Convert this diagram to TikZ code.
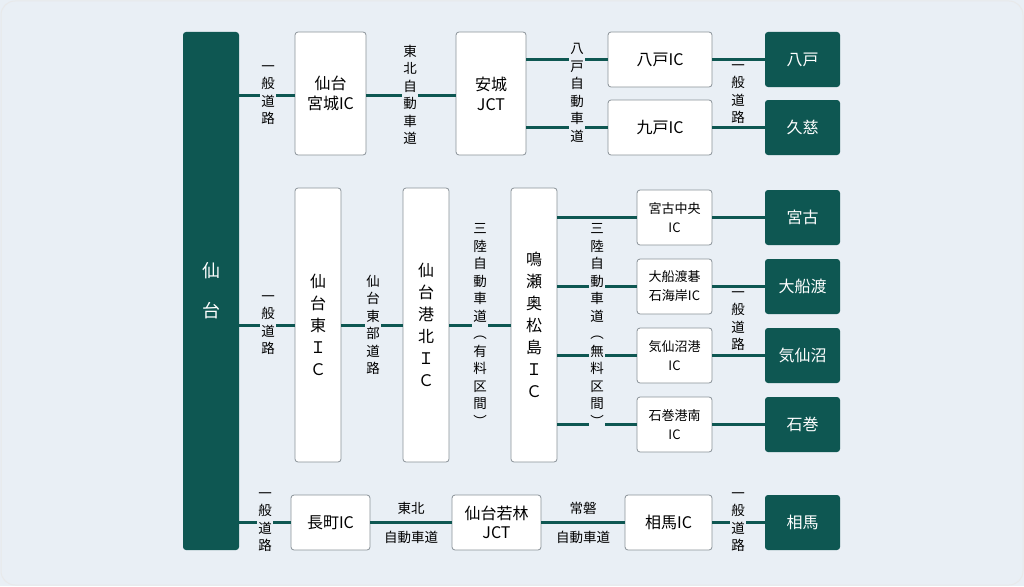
\documentclass[tikz,border=0pt]{standalone}
\usepackage{fontspec}
\setmainfont{Noto Sans CJK JP}
\definecolor{dk}{HTML}{0E5752}
\definecolor{bg}{HTML}{E9EFF5}
\definecolor{bd}{HTML}{8A9298}
\begin{document}
\begin{tikzpicture}[x=1pt,y=-1pt,
  wbox/.style={draw=bd,line width=0.8pt,fill=white,rounded corners=3pt,font=\fontsize{16}{20}\selectfont,align=center,inner sep=0pt},
  dbox/.style={fill=dk,rounded corners=3pt,text=white,font=\fontsize{16}{20}\selectfont,align=center,inner sep=0pt},
  lab/.style={fill=bg,font=\fontsize{13.5}{17.5}\selectfont,align=center,inner sep=1pt},
  hlab/.style={fill=bg,font=\fontsize{13.5}{16}\selectfont,align=center,inner sep=1pt},
  ln/.style={draw=dk,line width=3pt}]
\fill[bg] (0,0) rectangle (1024,586);
\draw[draw=white!80!bd,line width=1pt,rounded corners=14pt] (1,1) rectangle (1023,585);
% Sendai bar
\node[dbox,minimum width=56pt,minimum height=518pt,font=\fontsize{18}{40}\selectfont] (sd) at (211,291) {仙\\台};
% Row1
\node[wbox,minimum width=71pt,minimum height=123pt] (a1) at (330.5,93.5) {仙台\\宮城IC};
\node[wbox,minimum width=70pt,minimum height=123pt] (a2) at (491,93.5) {安城\\JCT};
\node[wbox,minimum width=104pt,minimum height=55pt] (a3) at (660,59.5) {八戸IC};
\node[wbox,minimum width=104pt,minimum height=55pt] (a4) at (660,127.5) {九戸IC};
\node[dbox,minimum width=75pt,minimum height=55pt] (a5) at (802.5,59.5) {八戸};
\node[dbox,minimum width=75pt,minimum height=55pt] (a6) at (802.5,127.5) {久慈};
\coordinate (s1) at (239,95);
\draw[ln] (s1) -- (a1.west|-s1);
\draw[ln] (a1.east|-s1) -- (a2.west|-s1);
\draw[ln] (a2.east|-a3) -- (a3.west);
\draw[ln] (a2.east|-a4) -- (a4.west);
\draw[ln] (a3) -- (a5);
\draw[ln] (a4) -- (a6);
\node[lab] (l1) at (268,95) {一\\般\\道\\路};
\node[lab] (l2) at (410,95) {東\\北\\自\\動\\車\\道};
\node[lab] (l3) at (577,93) {八\\戸\\自\\動\\車\\道};
\node[lab] (l4) at (738,94) {一\\般\\道\\路};
% Row2
\node[wbox,minimum width=46pt,minimum height=274pt,font=\fontsize{16}{22}\selectfont] (b1) at (318,325) {仙\\台\\東\\Ｉ\\Ｃ};
\node[wbox,minimum width=46pt,minimum height=274pt,font=\fontsize{16}{22}\selectfont] (b2) at (426,325) {仙\\台\\港\\北\\Ｉ\\Ｃ};
\node[wbox,minimum width=46pt,minimum height=274pt,font=\fontsize{16}{22}\selectfont] (b3) at (534,325) {鳴\\瀬\\奥\\松\\島\\Ｉ\\Ｃ};
\coordinate (s2) at (239,325);
\draw[ln] (s2) -- (b1.west|-s2);
\draw[ln] (b1) -- (b2);
\draw[ln] (b2) -- (b3);
\foreach \n/\y/\t/\d in {1/217.5/宮古中央\\IC/宮古,2/286.5/大船渡碁\\石海岸IC/大船渡,3/355.5/気仙沼港\\IC/気仙沼,4/424.5/石巻港南\\IC/石巻}{
  \node[wbox,minimum width=75pt,minimum height=55pt,font=\fontsize{13}{19}\selectfont] (c\n) at (674.5,\y) {\t};
  \node[dbox,minimum width=75pt,minimum height=55pt] (d\n) at (802.5,\y) {\d};
  \draw[ln] (b3.east|-c\n) -- (c\n.west);
  \draw[ln] (c\n) -- (d\n);
}
\node[lab] (m1) at (268,325) {一\\般\\道\\路};
\node[lab] (m2) at (373,325) {仙\\台\\東\\部\\道\\路};
\node[lab] (m3) at (480,325) {三\\陸\\自\\動\\車\\道\\︵\\有\\料\\区\\間\\︶};
\node[lab] (m4) at (597,325) {三\\陸\\自\\動\\車\\道\\︵\\無\\料\\区\\間\\︶};
\node[lab] (m5) at (738,321) {一\\般\\道\\路};
% Row3
\node[wbox,minimum width=79pt,minimum height=55pt] (e1) at (330.5,522.5) {長町IC};
\node[wbox,minimum width=89pt,minimum height=55pt,font=\fontsize{16}{19}\selectfont] (e2) at (496.5,522.5) {仙台若林\\JCT};
\node[wbox,minimum width=87pt,minimum height=55pt] (e3) at (668.5,522.5) {相馬IC};
\node[dbox,minimum width=75pt,minimum height=55pt] (e4) at (802.5,522.5) {相馬};
\coordinate (s3) at (239,522.5);
\draw[ln] (s3) -- (e1.west);
\draw[ln] (e1) -- (e2);
\draw[ln] (e2) -- (e3);
\draw[ln] (e3) -- (e4);
\node[lab] (n1) at (265,522) {一\\般\\道\\路};
\node[hlab] (n2) at (411,508) {東北};
\node[hlab] (n3) at (411,537) {自動車道};
\node[hlab] (n4) at (583,508) {常磐};
\node[hlab] (n5) at (583,537) {自動車道};
\node[lab] (n6) at (738,522) {一\\般\\道\\路};
\end{tikzpicture}
\end{document}
